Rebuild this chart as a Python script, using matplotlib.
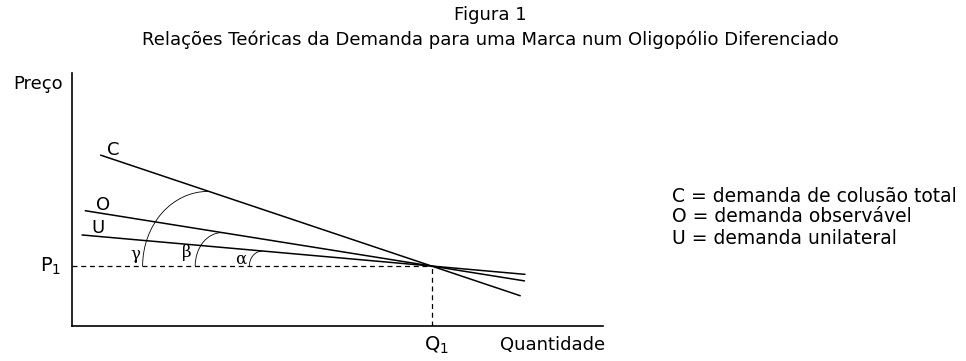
import matplotlib
matplotlib.use("Agg")
import matplotlib.pyplot as plt
from matplotlib.patches import Arc

plt.rcParams['font.family'] = ['DejaVu Sans']
plt.rcParams['mathtext.fontset'] = 'dejavusans'

# Curvas de demanda (extremos, em unidades arbitrárias do esquema)
c_q = [5.3, 84.5]
c_p = [67.6, 11.9]
o_q = [2.4, 85.3]
o_p = [45.6, 17.8]
u_q = [1.8, 85.4]
u_p = [36.0, 20.4]

q1 = 67.8
p1 = 23.7

# Arcos dos ângulos: (início no eixo P1, fim sobre a curva)
arc_q0 = [13.3, 23.2, 33.4]     # gamma, beta, alpha
arc_q1 = [25.6, 28.2, 35.8]
arc_p1 = [53.2, 36.9, 29.6]
greek = ['γ', 'β', 'α']
greek_q = [11.9, 21.6, 31.7]
greek_p = [28.3, 29.0, 26.3]

legenda = ['C = demanda de colusão total',
           'O = demanda observável',
           'U = demanda unilateral']

fig = plt.figure(figsize=(9.66, 3.61), dpi=100)
ax = fig.add_axes([72 / 966, 35 / 361, 531 / 966, 253 / 361])
ax.set_xlim(0, 100)
ax.set_ylim(0, 100)
for s in ['top', 'right']:
    ax.spines[s].set_visible(False)
for s in ['left', 'bottom']:
    ax.spines[s].set_linewidth(1.2)
ax.set_xticks([])
ax.set_yticks([])

for q, p in [(c_q, c_p), (o_q, o_p), (u_q, u_p)]:
    ax.plot(q, p, color='black', lw=1.1, solid_capstyle='butt')

ax.plot([0, q1], [p1, p1], color='black', lw=0.9, ls=(0, (4, 3)))
ax.plot([q1, q1], [0, p1], color='black', lw=0.9, ls=(0, (4, 3)))

for a0, a1, top in zip(arc_q0, arc_q1, arc_p1):
    w = 2 * (a1 - a0)
    h = 2 * (top - p1)
    ax.add_patch(Arc((a1, p1), w, h, theta1=90, theta2=180,
                     color='black', lw=0.6))

for g, gq, gp in zip(greek, greek_q, greek_p):
    ax.text(gq, gp, g, fontsize=12, ha='center', va='center',
            family=['DejaVu Serif'])

ax.text(7.8, 69.5, 'C', fontsize=13, ha='center', va='center')
ax.text(5.8, 48.0, 'O', fontsize=13, ha='center', va='center')
ax.text(4.9, 38.8, 'U', fontsize=13, ha='center', va='center')

ax.text(-2.0, p1, r'P$_\mathregular{1}$', fontsize=14, ha='right',
        va='center', clip_on=False)
ax.text(q1 + 0.8, -7.5, r'Q$_\mathregular{1}$', fontsize=14, ha='center',
        va='center', clip_on=False)
ax.text(80.6, -7.5, 'Quantidade', fontsize=13, ha='left', va='center',
        clip_on=False)
ax.text(-1.8, 95.5, 'Preço', fontsize=13, ha='right', va='center',
        clip_on=False)

fig.text(490 / 966, 1 - 15 / 361, 'Figura 1', fontsize=13,
         ha='center', va='center')
fig.text(490 / 966, 1 - 40 / 361,
         'Relações Teóricas da Demanda para uma Marca num Oligopólio Diferenciado',
         fontsize=13, ha='center', va='center')

for i, t in enumerate(legenda):
    fig.text(672 / 966, 1 - (196 + 21 * i) / 361, t, fontsize=13.5,
             ha='left', va='center')

fig.savefig('out.png', dpi=100)
